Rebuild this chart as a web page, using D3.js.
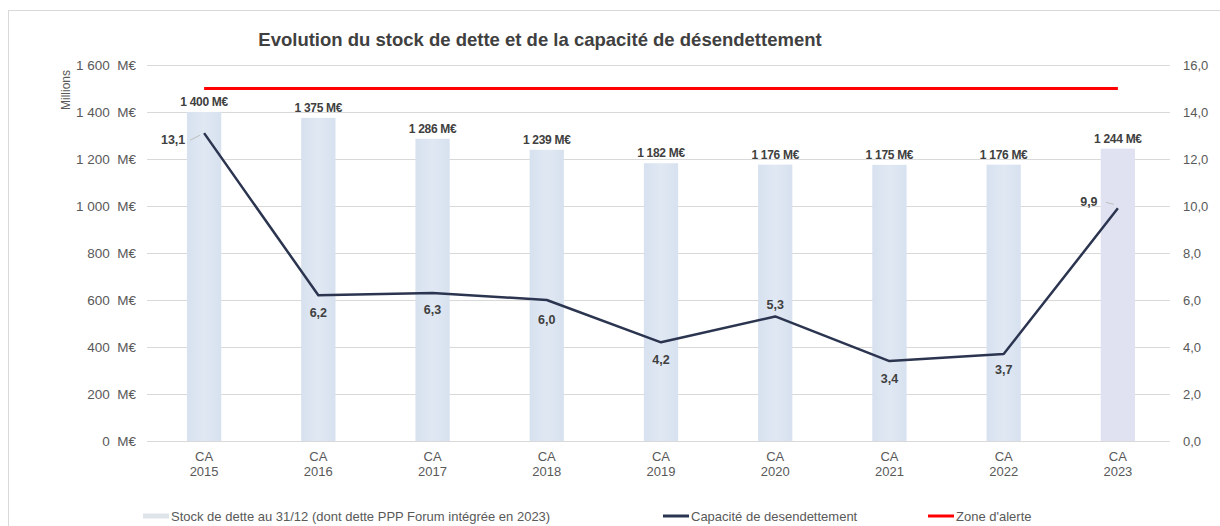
<!DOCTYPE html>
<html>
<head>
<meta charset="utf-8">
<script src="https://cdn.jsdelivr.net/npm/d3@7"></script>
<style>
  body { margin: 0; background: #fff; }
  svg { font-family: "Liberation Sans", Arial, sans-serif; }
</style>
</head>
<body>
<div id="chart"></div>
<script>
// data
const years = ["2015", "2016", "2017", "2018", "2019", "2020", "2021", "2022", "2023"];
const stock = [1400, 1375, 1286, 1239, 1182, 1176, 1175, 1176, 1244];
const capacite = [13.1, 6.2, 6.3, 6.0, 4.2, 5.3, 3.4, 3.7, 9.9];
const alerte = [15, 15, 15, 15, 15, 15, 15, 15, 15];
const leftTicks = [0, 200, 400, 600, 800, 1000, 1200, 1400, 1600];
const rightTicks = [0, 2, 4, 6, 8, 10, 12, 14, 16];
// label placement for the line values: [dx, dy]
const capLabelPos = [[-31, 11], [0, 22], [0, 21], [0, 24], [0, 22], [0, -7], [0, 22], [0, 20], [-29, -2]];

const width = 1220, height = 526;
const plot = { left: 147, right: 1175, top: 65, bottom: 441 };

const svg = d3.select("#chart").append("svg")
    .attr("width", width)
    .attr("height", height);

// frame
svg.append("rect")
    .attr("x", 8.5).attr("y", 10.5)
    .attr("width", 1230).attr("height", 530)
    .attr("fill", "none")
    .attr("stroke", "#d9d9d9");

const x = d3.scaleBand()
    .domain(years)
    .range([plot.left, plot.right])
    .paddingInner(0.7)
    .paddingOuter(0.35);

const yLeft = d3.scaleLinear().domain([0, 1600]).range([plot.bottom, plot.top]);
const yRight = d3.scaleLinear().domain([0, 16]).range([plot.bottom, plot.top]);

const fmtM = d => d3.format(",")(d).replace(/,/g, "\u00a0");
const fmtDec = d => d3.format(".1f")(d).replace(".", ",");

// gridlines
svg.append("g")
    .selectAll("line")
    .data(leftTicks)
    .join("line")
    .attr("x1", plot.left).attr("x2", 1170)
    .attr("y1", d => Math.round(yLeft(d)) + 0.5)
    .attr("y2", d => Math.round(yLeft(d)) + 0.5)
    .attr("stroke", "#d9d9d9")
    .attr("stroke-width", 1);

// left axis
const leftAxis = svg.append("g")
    .attr("transform", `translate(${plot.left},0)`)
    .call(d3.axisLeft(yLeft).tickValues(leftTicks).tickSize(0).tickPadding(11)
        .tickFormat(d => fmtM(d) + "\u00a0\u00a0M€"));
leftAxis.select(".domain").remove();
leftAxis.selectAll("text")
    .attr("font-size", 13.5).attr("fill", "#595959")
    .attr("font-family", "Liberation Sans, Arial, sans-serif");

// right axis
const rightAxis = svg.append("g")
    .attr("transform", `translate(1170,0)`)
    .call(d3.axisRight(yRight).tickValues(rightTicks).tickSize(0).tickPadding(13)
        .tickFormat(fmtDec));
rightAxis.select(".domain").remove();
rightAxis.selectAll("text")
    .attr("font-size", 13).attr("fill", "#595959")
    .attr("font-family", "Liberation Sans, Arial, sans-serif");

// x axis labels
const xLab = svg.append("g").selectAll("text")
    .data(years)
    .join("text")
    .attr("x", d => x(d) + x.bandwidth() / 2)
    .attr("y", 461)
    .attr("text-anchor", "middle")
    .attr("font-size", 13)
    .attr("fill", "#595959");
xLab.append("tspan").attr("x", d => x(d) + x.bandwidth() / 2).text("CA");
xLab.append("tspan").attr("x", d => x(d) + x.bandwidth() / 2).attr("dy", 15).text(d => d);

// "Millions"
svg.append("text")
    .attr("transform", "translate(70,90) rotate(-90)")
    .attr("text-anchor", "middle")
    .attr("font-size", 12)
    .attr("fill", "#595959")
    .text("Millions");

// bars
const grad = svg.append("defs").append("linearGradient")
    .attr("id", "barGrad").attr("x1", 0).attr("x2", 1).attr("y1", 0).attr("y2", 0);
grad.append("stop").attr("offset", "0%").attr("stop-color", "#d7e1ef");
grad.append("stop").attr("offset", "50%").attr("stop-color", "#e0e8f3");
grad.append("stop").attr("offset", "100%").attr("stop-color", "#d7e1ef");

svg.append("g").selectAll("rect")
    .data(years)
    .join("rect")
    .attr("x", d => x(d))
    .attr("width", x.bandwidth())
    .attr("y", (d, i) => yLeft(stock[i]))
    .attr("height", (d, i) => plot.bottom - yLeft(stock[i]))
    .attr("fill", (d, i) => i === years.length - 1 ? "#e0e2f2" : "url(#barGrad)");

// bar labels
svg.append("g").selectAll("text")
    .data(years)
    .join("text")
    .attr("x", d => x(d) + x.bandwidth() / 2)
    .attr("y", (d, i) => yLeft(stock[i]) - 6)
    .attr("text-anchor", "middle")
    .attr("font-size", 12)
    .attr("font-weight", "bold")
    .attr("letter-spacing", -0.3)
    .attr("fill", "#404040")
    .text((d, i) => fmtM(stock[i]) + "\u00a0M€");

// alert line
const cx = d => x(d) + x.bandwidth() / 2;
svg.append("path")
    .datum(years)
    .attr("fill", "none")
    .attr("stroke", "#ff0000")
    .attr("stroke-width", 3)
    .attr("d", d3.line().x(d => cx(d)).y((d, i) => yRight(alerte[i])));

// capacity line
svg.append("path")
    .datum(years)
    .attr("fill", "none")
    .attr("stroke", "#2b3550")
    .attr("stroke-width", 2.5)
    .attr("stroke-linejoin", "round")
    .attr("d", d3.line().x(d => cx(d)).y((d, i) => yRight(capacite[i])));

// leader lines for side labels
[0, 8].forEach(i => {
    svg.append("line")
        .attr("x1", cx(years[i]) - 4).attr("y1", yRight(capacite[i]) + (i === 0 ? 2 : -4))
        .attr("x2", cx(years[i]) + capLabelPos[i][0] + 17).attr("y2", yRight(capacite[i]) + capLabelPos[i][1] - 4)
        .attr("stroke", "#bfbfbf").attr("stroke-width", 1);
});

svg.append("g").selectAll("text")
    .data(years)
    .join("text")
    .attr("x", (d, i) => cx(d) + capLabelPos[i][0])
    .attr("y", (d, i) => yRight(capacite[i]) + capLabelPos[i][1])
    .attr("text-anchor", "middle")
    .attr("font-size", 12.5)
    .attr("font-weight", "bold")
    .attr("fill", "#404040")
    .text((d, i) => fmtDec(capacite[i]));

// title
svg.append("text")
    .attr("x", 540).attr("y", 46)
    .attr("text-anchor", "middle")
    .attr("font-size", 18.5)
    .attr("font-weight", "bold")
    .attr("fill", "#404040")
    .text("Evolution du stock de dette et de la capacité de désendettement");

// legend
const legend = [
    { x: 143, color: "#dfe3ea", w: 5, label: "Stock de dette au 31/12 (dont dette PPP Forum intégrée en 2023)" },
    { x: 663, color: "#2b3550", w: 3, label: "Capacité de desendettement" },
    { x: 928, color: "#ff0000", w: 3, label: "Zone d'alerte" }
];
const lg = svg.append("g").selectAll("g").data(legend).join("g")
    .attr("transform", d => `translate(${d.x},516)`);
lg.append("line")
    .attr("x1", 0).attr("x2", 26).attr("y1", 0).attr("y2", 0)
    .attr("stroke", d => d.color).attr("stroke-width", d => d.w);
lg.append("text")
    .attr("x", 28).attr("y", 4.5)
    .attr("font-size", 13)
    .attr("fill", "#595959")
    .text(d => d.label);
</script>
</body>
</html>
